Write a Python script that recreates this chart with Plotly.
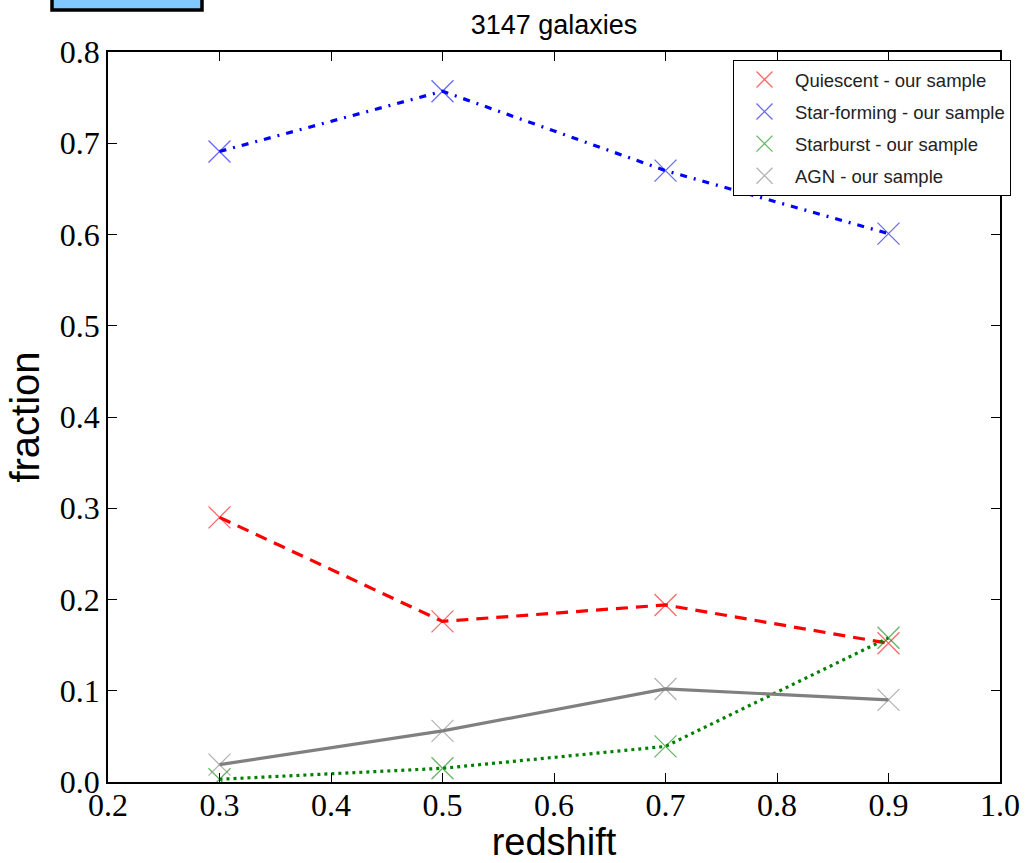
import plotly.graph_objects as go

redshift = [0.3, 0.5, 0.7, 0.9]
quiescent = [0.290, 0.176, 0.194, 0.152]
star_forming = [0.691, 0.757, 0.670, 0.601]
starburst = [0.003, 0.015, 0.039, 0.158]
agn = [0.019, 0.056, 0.102, 0.090]

x_ticks = [0.2, 0.3, 0.4, 0.5, 0.6, 0.7, 0.8, 0.9, 1.0]
y_ticks = [0.0, 0.1, 0.2, 0.3, 0.4, 0.5, 0.6, 0.7, 0.8]

series = [
    ("Quiescent - our sample", quiescent, "rgb(255,0,0)", "rgba(255,0,0,0.6)", "12px,8px"),
    ("Star-forming - our sample", star_forming, "rgb(0,0,255)", "rgba(0,0,255,0.6)", "7px,7px,2px,7px"),
    ("Starburst - our sample", starburst, "rgb(0,128,0)", "rgba(0,128,0,0.6)", "3px,4px"),
    ("AGN - our sample", agn, "rgb(128,128,128)", "rgba(128,128,128,0.6)", "solid"),
]

fig = go.Figure()
for i, (name, vals, lc, mc, dash) in enumerate(series):
    fig.add_trace(go.Scatter(
        x=redshift, y=vals, mode="lines", showlegend=False,
        line=dict(color=lc, width=3.2, dash=dash), hoverinfo="skip"))
for i, (name, vals, lc, mc, dash) in enumerate(series):
    fig.add_trace(go.Scatter(
        x=redshift, y=vals, mode="markers", name=name, legendgroup=f"g{i}",
        marker=dict(symbol="x-thin-open", size=22, line=dict(color=mc, width=1.3), color=mc)))

axis_common = dict(
    showline=True, linecolor="black", linewidth=1.5, mirror="allticks",
    ticks="inside", ticklen=9, tickwidth=1, tickcolor="black",
    showgrid=False, zeroline=False, automargin=False,
    tickfont=dict(family="Liberation Serif", size=32, color="black"),
)

W, H = 1025, 863
fig.update_layout(
    width=W, height=H,
    margin=dict(l=108, r=25, t=52, b=81),
    paper_bgcolor="white", plot_bgcolor="white",
    title=dict(text="3147 galaxies", x=(108 + 1000) / 2 / W, xanchor="center",
               y=1 - 25 / H, yanchor="middle",
               font=dict(family="Liberation Sans", size=27, color="black")),
    xaxis=dict(range=[0.2, 1.0], tickvals=x_ticks, ticktext=[f"{v:.1f}" for v in x_ticks],
               ticklabelstandoff=-6,
               title=dict(text="redshift", font=dict(family="Liberation Sans", size=38, color="black"), standoff=6),
               **axis_common),
    yaxis=dict(range=[0.0, 0.8], tickvals=y_ticks, ticktext=[f"{v:.1f}" for v in y_ticks],
               title=dict(text="fraction", font=dict(family="Liberation Sans", size=40, color="black"), standoff=8),
               **axis_common),
    legend=dict(x=(733 - 108) / 892, xanchor="left", y=(782 - 60) / 730, yanchor="top",
                bgcolor="white", bordercolor="black", borderwidth=1,
                font=dict(family="Liberation Sans", size=18.5, color="#222"),
                tracegroupgap=5, itemwidth=51),
    shapes=[dict(type="rect", xref="paper", yref="paper",
                 x0=(52 - 108) / 892, x1=(202 - 108) / 892,
                 y0=(782 - 10) / 730, y1=(782 + 12) / 730,
                 fillcolor="#80c8ff", line=dict(color="black", width=3.5), layer="above")],
)

fig.write_html("out.html", config={"displayModeBar": False},
               post_script="document.body.style.margin='0px';")
